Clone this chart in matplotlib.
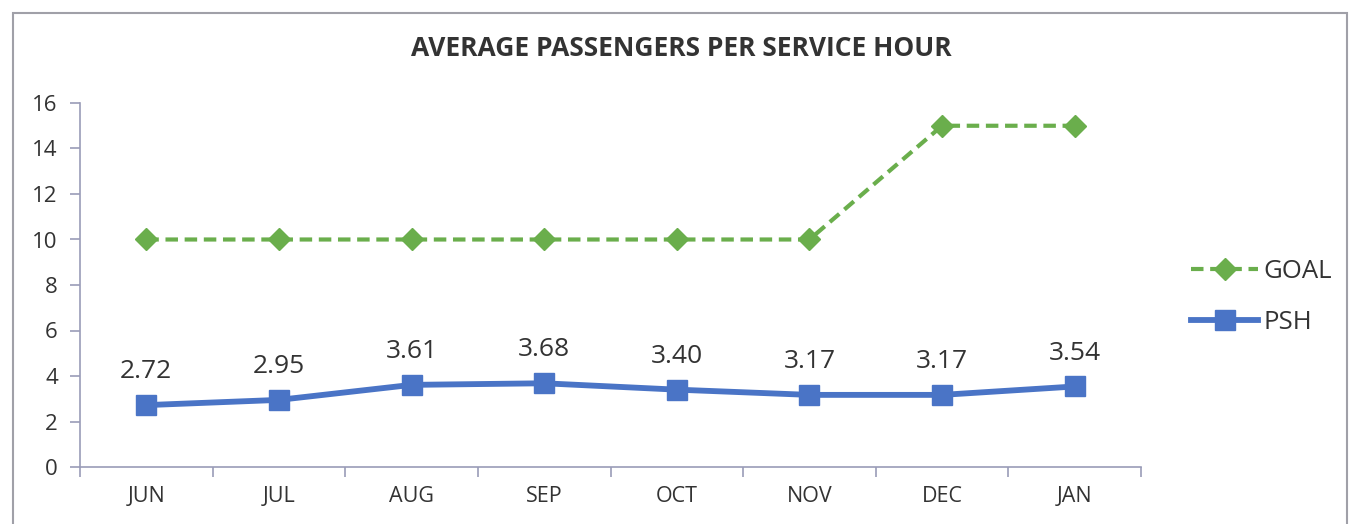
import matplotlib
matplotlib.use('Agg')
import matplotlib.pyplot as plt
from matplotlib.patches import Rectangle

# chart values
months = ['JUN', 'JUL', 'AUG', 'SEP', 'OCT', 'NOV', 'DEC', 'JAN']
goal = [10, 10, 10, 10, 10, 10, 15, 15]
psh = [2.72, 2.95, 3.61, 3.68, 3.40, 3.17, 3.17, 3.54]

plt.rcParams['font.family'] = ['Open Sans', 'DejaVu Sans']

fig = plt.figure(figsize=(13.52, 5.24), dpi=100)
ax = fig.add_axes([80/1352, 57/524, (1141-80)/1352, (467-103)/524])

x = list(range(len(months)))
green = '#6aae4c'
blue = '#4a74c6'
axis_col = '#9a9cb8'

ax.plot(x, goal, color=green, linestyle=(0, (3, 1.6)), linewidth=3,
        marker='D', markersize=11, label='GOAL')
ax.plot(x, psh, color=blue, linewidth=4.2, marker='s', markersize=14,
        label='PSH')

# data labels on PSH
for xi, v in zip(x, psh):
    ax.annotate('%.2f' % v, (xi, v), xytext=(0, 15), textcoords='offset points',
                ha='center', va='bottom', fontsize=19, color='#333333')

ax.set_xlim(-0.5, 7.5)
ax.set_ylim(0, 16)
ax.set_yticks(range(0, 17, 2))
ax.set_xticks(x)
ax.set_xticklabels(months)
ax.set_xticks([i - 0.5 for i in range(len(months) + 1)], minor=True)

ax.tick_params(axis='x', which='major', length=0, pad=14, labelsize=15.5, labelcolor='#333333')
ax.tick_params(axis='x', which='minor', length=7, width=1.2, color=axis_col)
ax.tick_params(axis='y', length=7, width=1.2, color=axis_col, pad=9,
               labelsize=16, labelcolor='#333333')

for s in ['top', 'right']:
    ax.spines[s].set_visible(False)
for s in ['left', 'bottom']:
    ax.spines[s].set_color(axis_col)
    ax.spines[s].set_linewidth(1.2)

fig.text(0.504, 1 - 48/524, 'AVERAGE PASSENGERS PER SERVICE HOUR',
         ha='center', va='center', fontsize=19, fontweight='bold', color='#333333')

fig.legend(loc='center left', bbox_to_anchor=(1168/1352, 1 - 297/524),
           frameon=False, fontsize=18.5, handlelength=2.6, labelspacing=1.0,
           handletextpad=0.2, labelcolor='#333333')

# outer frame of the chart
fig.patches.append(Rectangle((13/1352, -0.05), (1347-13)/1352, 1.05 - 13/524,
                             transform=fig.transFigure, fill=False,
                             edgecolor='#a0a0a8', linewidth=1.5))

fig.savefig('out.png', dpi=100, facecolor='white')
